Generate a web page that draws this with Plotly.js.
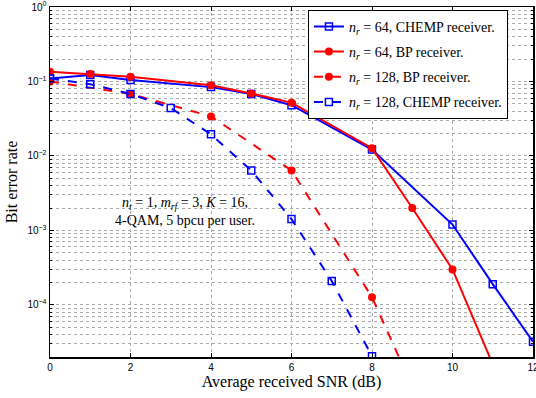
<!DOCTYPE html>
<html><head><meta charset="utf-8">
<script src="https://cdn.plot.ly/plotly-3.0.1.min.js"></script>
<style>html,body{margin:0;padding:0;background:#fff}#c{width:536px;height:398px}</style>
</head><body><div id="c"></div>
<script>
// Data
const snrChemp64 = [0, 1, 2, 4, 5, 6, 8, 10, 11, 12];
const berChemp64 = [0.11, 0.122, 0.105, 0.084, 0.068, 0.048, 0.0122, 1.2e-3, 1.9e-4, 3.2e-5];

const snrBp64 = [0, 1, 2, 4, 5, 6, 8, 9, 10, 11];
const berBp64 = [0.135, 0.126, 0.116, 0.089, 0.069, 0.052, 0.0127, 2.0e-3, 3.0e-4, 1.6e-5];

const snrBp128 = [0, 2, 4, 6, 8, 9];
const berBp128 = [0.1, 0.068, 0.034, 6.4e-3, 1.27e-4, 8e-6];

const snrChemp128 = [0, 1, 2, 3, 4, 5, 6, 7, 8];
const berChemp128 = [0.11, 0.092, 0.068, 0.044, 0.0195, 6.4e-3, 1.42e-3, 2.1e-4, 2.05e-5];

const legendNames = [
  '<i>n</i><sub><i>r</i></sub> = 64, CHEMP receiver.',
  '<i>n</i><sub><i>r</i></sub> = 64, BP receiver.',
  '<i>n</i><sub><i>r</i></sub> = 128, BP receiver.',
  '<i>n</i><sub><i>r</i></sub> = 128, CHEMP receiver.'
];
const xTicks = [0, 2, 4, 6, 8, 10, 12];
const yTickVals = [1, 0.1, 0.01, 1e-3, 1e-4];
const yTickText = ['10<sup>0</sup>', '10<sup>−1</sup>', '10<sup>−2</sup>', '10<sup>−3</sup>', '10<sup>−4</sup>'];

const minorVals = [];
for (let e = -5; e < 0; e++) for (let m = 2; m <= 9; m++) minorVals.push(m * Math.pow(10, e));

const blue = '#0000ff', red = '#ff0000';
const traces = [
  {x: snrChemp64, y: berChemp64, name: legendNames[0], legendgroup: 'a', mode: 'lines+markers',
   line: {color: blue, width: 2}, marker: {symbol: 'square-open', size: 7, color: blue, line: {width: 1.5, color: blue}}},
  {x: snrBp64, y: berBp64, name: legendNames[1], legendgroup: 'b', mode: 'lines+markers',
   line: {color: red, width: 2}, marker: {symbol: 'circle', size: 8, color: red}},
  {x: snrBp128, y: berBp128, name: legendNames[2], legendgroup: 'c', mode: 'lines+markers',
   line: {color: red, width: 2, dash: 'dash'}, marker: {symbol: 'circle', size: 8, color: red}},
  {x: snrChemp128, y: berChemp128, name: legendNames[3], legendgroup: 'd', mode: 'lines+markers',
   line: {color: blue, width: 2, dash: 'dash'}, marker: {symbol: 'square-open', size: 7, color: blue, line: {width: 1.5, color: blue}}}
].map(t => Object.assign(t, {type: 'scatter', cliponaxis: true}));

const serif = 'Liberation Serif, Times New Roman, serif';
const sans = 'Liberation Sans, Arial, sans-serif';

const layout = {
  width: 536, height: 398,
  margin: {l: 50, r: 3, t: 7, b: 41},
  paper_bgcolor: '#fff', plot_bgcolor: '#fff',
  showlegend: true,
  legend: {x: 0.534, y: 0.992, xanchor: 'left', yanchor: 'top', bgcolor: '#fff',
    bordercolor: '#000', borderwidth: 1, font: {family: serif, size: 14, color: '#000'},
    tracegroupgap: 4, itemwidth: 30},
  xaxis: {range: [0, 12], tickvals: xTicks, ticks: 'inside', ticklen: 4, tickcolor: '#000',
    showline: true, linecolor: '#000', linewidth: 1.5, mirror: 'ticks', zeroline: false,
    showgrid: true, gridcolor: '#aaa', griddash: 'dot', gridwidth: 1, ticklabeloverflow: 'allow',
    tickfont: {family: sans, size: 10, color: '#000'},
    title: {text: 'Average received SNR (dB)', font: {family: serif, size: 16, color: '#000'}, standoff: 4}},
  yaxis: {type: 'log', range: [Math.log10(2e-5), 0], tickvals: yTickVals, ticktext: yTickText,
    ticks: 'inside', ticklen: 4, tickcolor: '#000',
    showline: true, linecolor: '#000', linewidth: 1.5, mirror: 'ticks', zeroline: false,
    showgrid: true, gridcolor: '#aaa', griddash: 'dot', gridwidth: 1,
    minor: {tickvals: minorVals, ticks: 'inside', ticklen: 2, tickcolor: '#000', showgrid: true, gridcolor: '#aaa', griddash: 'dot', gridwidth: 1},
    tickfont: {family: sans, size: 10, color: '#000'},
    title: {text: 'Bit error rate', font: {family: serif, size: 16, color: '#000'}, standoff: 6}},
  annotations: [{
    xref: 'x', yref: 'y', x: 3.35, y: Math.log10(1.8e-3), showarrow: false, align: 'center',
    text: '<i>n</i><sub><i>t</i></sub> = 1, <i>m</i><sub><i>rf</i></sub> = 3, <i>K</i> = 16,<br>4-QAM, 5 bpcu per user.',
    font: {family: serif, size: 14, color: '#000'}
  }]
};

Plotly.newPlot('c', traces, layout, {displayModeBar: false, staticPlot: true});
</script></body></html>
